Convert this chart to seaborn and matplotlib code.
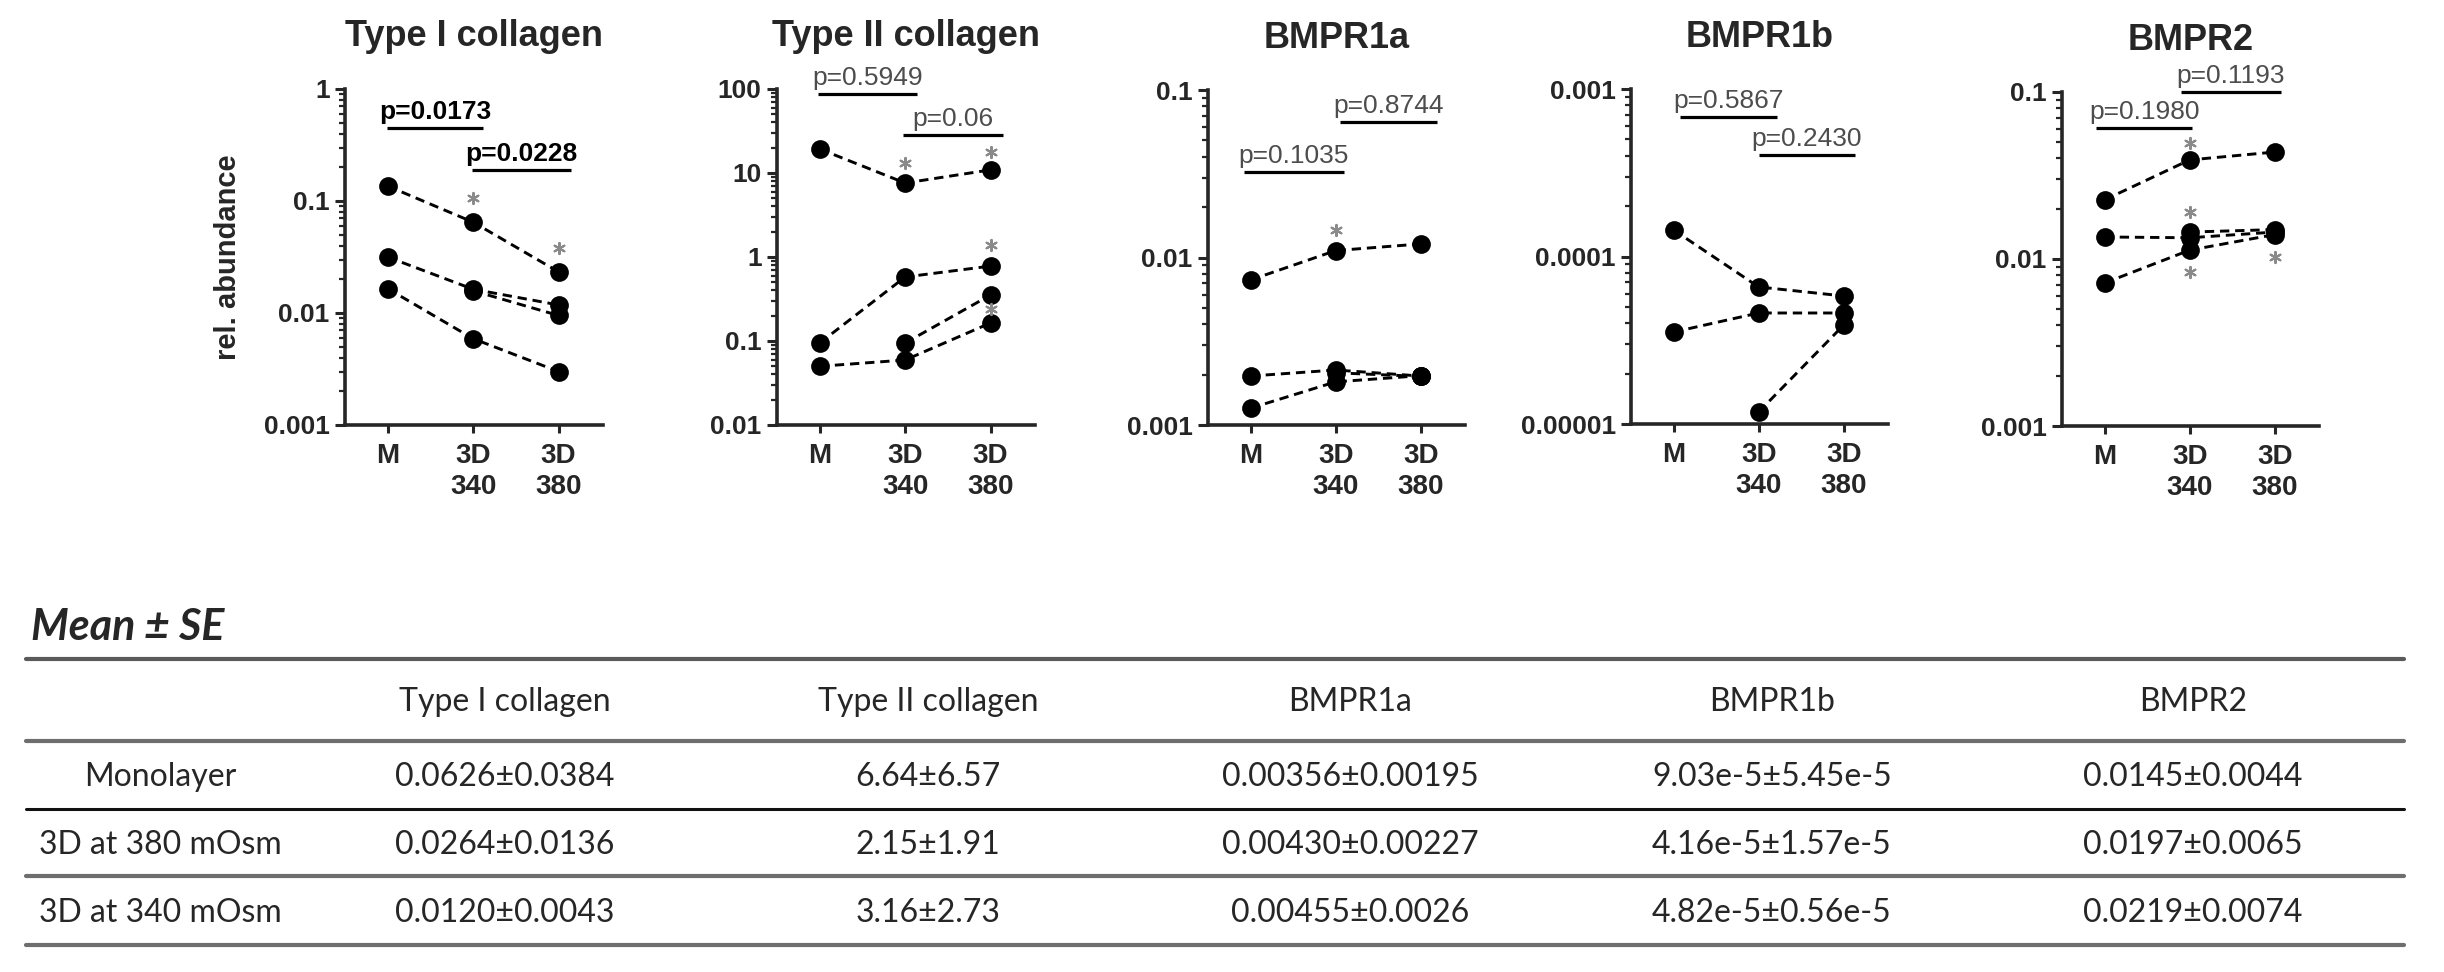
import numpy as np
import pandas as pd
import matplotlib
matplotlib.use("Agg")
import matplotlib.pyplot as plt
from matplotlib.lines import Line2D
from matplotlib.ticker import LogLocator, NullFormatter
import seaborn as sns

nan = np.nan

# ---- data ----
genes = ["Type I collagen", "Type II collagen", "BMPR1a", "BMPR1b", "BMPR2"]
conditions = ["M", "3D\n340", "3D\n380"]

# one row per donor: M, 3D 340, 3D 380
col1_vals = [
    [0.136, 0.0647, 0.0233],
    [0.0316, 0.0163, 0.0118],
    [nan, 0.0158, 0.0095],
    [0.0165, 0.0059, 0.0030],
]
col2_vals = [
    [19.3, 7.6, 10.9],
    [0.0946, 0.578, 0.78],
    [nan, 0.0946, 0.353],
    [0.050, 0.0594, 0.164],
]
bmpr1a_vals = [
    [0.00734, 0.0110, 0.01205],
    [0.00196, 0.00213, 0.00196],
    [nan, 0.00205, 0.00195],
    [0.00126, 0.00181, 0.00197],
]
bmpr1b_vals = [
    [1.44e-4, 6.58e-5, 5.81e-5],
    [3.54e-5, 4.6e-5, 4.6e-5],
    [nan, 1.18e-5, 3.9e-5],
]
bmpr2_vals = [
    [0.0226, 0.0392, 0.0437],
    [0.01355, 0.0134, 0.0145],
    [0.00718, 0.0113, 0.0140],
    [nan, 0.0145, 0.0150],
]

# significance stars (condition index, value)
star_x = [[1, 2], [1, 2, 2, 2], [1], [], [1, 1, 1, 2]]
star_y = [[0.1066, 0.038], [13.2, 17.8, 1.39, 0.24], [0.0146], [],
          [0.0495, 0.0191, 0.00836, 0.0103]]

p_labels = [["p=0.0173", "p=0.0228"], ["p=0.5949", "p=0.06"],
            ["p=0.1035", "p=0.8744"], ["p=0.5867", "p=0.2430"],
            ["p=0.1980", "p=0.1193"]]

y_ranges = [(1e-3, 1), (1e-2, 1e2), (1e-3, 1e-1), (1e-5, 1e-3), (1e-3, 1e-1)]
y_ticklabels = [["0.001", "0.01", "0.1", "1"],
                ["0.01", "0.1", "1", "10", "100"],
                ["0.001", "0.01", "0.1"],
                ["0.00001", "0.0001", "0.001"],
                ["0.001", "0.01", "0.1"]]

# table: mean +/- SE
table_rows = ["Monolayer", "3D at 380 mOsm", "3D at 340 mOsm"]
tab_col1 = ["0.0626±0.0384", "0.0264±0.0136", "0.0120±0.0043"]
tab_col2 = ["6.64±6.57", "2.15±1.91", "3.16±2.73"]
tab_bmpr1a = ["0.00356±0.00195", "0.00430±0.00227", "0.00455±0.0026"]
tab_bmpr1b = ["9.03e-5±5.45e-5", "4.16e-5±1.57e-5", "4.82e-5±0.56e-5"]
tab_bmpr2 = ["0.0145±0.0044", "0.0197±0.0065", "0.0219±0.0074"]

# ---- layout ----
W, H = 2444, 972
panel_px = [(345, 603, 89, 425), (777, 1035, 89, 425), (1208, 1465, 90, 425),
            (1631, 1888, 89, 424), (2062, 2319, 92, 426)]
# bracket layout: (x0, x1, y in axes fraction)
brackets = [[(-0.01, 1.12, 0.884), (0.99, 2.14, 0.759)],
            [(-0.02, 1.14, 0.985), (0.98, 2.14, 0.863)],
            [(-0.08, 1.10, 0.755), (1.05, 2.19, 0.904)],
            [(0.08, 1.21, 0.916), (1.00, 2.13, 0.803)],
            [(-0.10, 1.03, 0.892), (0.90, 2.07, 1.000)]]

sns.set_style("ticks")
plt.rcParams["font.family"] = ["Liberation Sans", "DejaVu Sans"]

fig = plt.figure(figsize=(W / 100, H / 100), dpi=100)

all_vals = [col1_vals, col2_vals, bmpr1a_vals, bmpr1b_vals, bmpr2_vals]

for i, gene in enumerate(genes):
    x0, x1, y0, y1 = panel_px[i]
    ax = fig.add_axes([x0 / W, 1 - y1 / H, (x1 - x0) / W, (y1 - y0) / H])

    rows = []
    for d, vals in enumerate(all_vals[i]):
        for c, v in enumerate(vals):
            rows.append({"donor": d, "pos": c, "value": v})
    df = pd.DataFrame(rows).dropna()

    sns.lineplot(data=df, x="pos", y="value", units="donor", estimator=None,
                 color="black", marker="o", markersize=13.5,
                 markeredgecolor="black", markeredgewidth=0,
                 linestyle=(0, (3.2, 2.0)), lw=2.1, legend=False, ax=ax)
    ax.scatter(star_x[i], star_y[i], marker=(6, 2, 0), s=65, color="#8a8a8a",
               linewidths=1.5, zorder=4)

    ax.set_yscale("log")
    lo, hi = y_ranges[i]
    ax.set_ylim(lo, hi)
    ax.set_xlim(-0.5, 2.52)
    majors = 10.0 ** np.arange(np.log10(lo), np.log10(hi) + 0.5)
    ax.set_yticks(majors)
    ax.set_yticklabels(y_ticklabels[i], fontsize=19, fontweight="bold")
    ax.yaxis.set_minor_locator(LogLocator(base=10, subs=np.arange(2, 10)))
    ax.yaxis.set_minor_formatter(NullFormatter())
    ax.set_xticks(range(len(conditions)))
    ax.set_xticklabels(conditions, fontsize=20, fontweight="bold")
    for lbl in ax.get_xticklabels():
        lbl.set_linespacing(1.25)

    for s in ["top", "right"]:
        ax.spines[s].set_visible(False)
    for s in ["left", "bottom"]:
        ax.spines[s].set_linewidth(2.6)
    ax.tick_params(axis="y", which="major", length=7, width=2.2, pad=4)
    ax.tick_params(axis="y", which="minor", length=4, width=1.6)
    ax.tick_params(axis="x", which="major", length=6, width=2.2, pad=7)
    ax.set_xlabel("")
    if i == 0:
        ax.set_ylabel("rel. abundance", fontsize=21, fontweight="bold")
        ax.yaxis.set_label_coords(-0.40, 0.5)
    else:
        ax.set_ylabel("")

    ax.text(0.5, 1.155, gene, transform=ax.transAxes, ha="center",
            va="center", fontsize=26, fontweight="bold")

    trans = ax.get_xaxis_transform()
    for (bx0, bx1, by), lab in zip(brackets[i], p_labels[i]):
        ax.plot([bx0, bx1], [by, by], color="black", lw=2.3, transform=trans,
                clip_on=False, solid_capstyle="butt")
        bold = i == 0
        ax.text((bx0 + bx1) / 2, by + 0.027, lab, transform=trans,
                ha="center", va="baseline", fontsize=19,
                fontweight="bold" if bold else "normal",
                color="black" if bold else "#4d4d4d")

# ---- table ----
tab = fig.add_axes([0, 0, 1, 1])
tab.set_xlim(0, W)
tab.set_ylim(H, 0)
tab.axis("off")
tfont = ["Lato", "DejaVu Sans"]

tab.text(31, 627, "Mean ± SE", fontsize=31, fontweight="bold", style="italic",
         ha="left", va="center", family=tfont)

rule_y = [659, 741, 809, 876, 945]
rule_c = ["#5a5a5a", "#6e6e6e", "#111111", "#6e6e6e", "#6e6e6e"]
rule_w = [3.0, 3.0, 2.2, 3.0, 3.0]
for y, c, w in zip(rule_y, rule_c, rule_w):
    tab.add_line(Line2D([26, 2404], [y, y], color=c, lw=w))

col_x = [505, 928, 1350, 1772, 2193]
row_y = [777, 845, 913]
label_x = 160
tab_cols = [tab_col1, tab_col2, tab_bmpr1a, tab_bmpr1b, tab_bmpr2]
for cx, g in zip(col_x, genes):
    tab.text(cx, 702, g, ha="center", va="center", fontsize=23, family=tfont)
for ry, r in zip(row_y, table_rows):
    tab.text(label_x, ry, r, ha="center", va="center", fontsize=23, family=tfont)
for cx, col in zip(col_x, tab_cols):
    for ry, v in zip(row_y, col):
        tab.text(cx, ry, v, ha="center", va="center", fontsize=23, family=tfont)

fig.savefig("out.png", dpi=100)
